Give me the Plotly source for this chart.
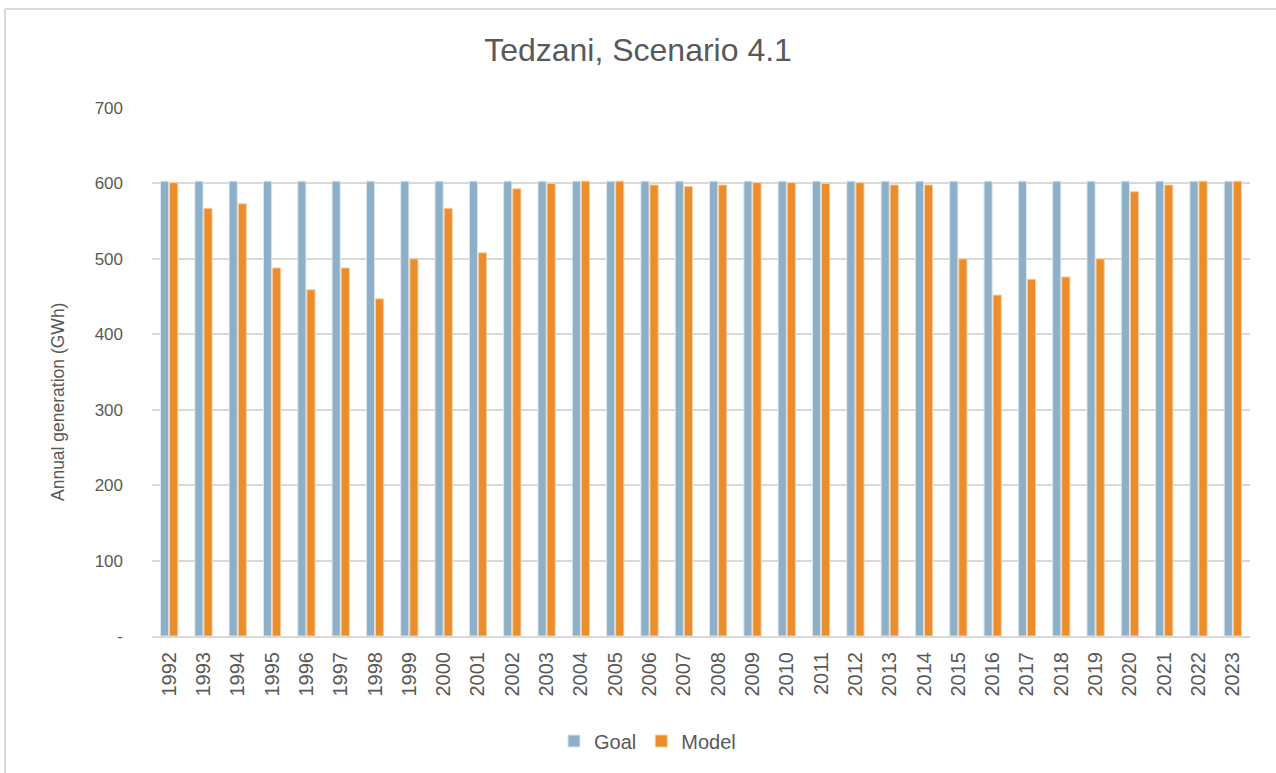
import plotly.graph_objects as go

years = [str(y) for y in range(1992, 2024)]
goal = [603] * 32
model = [601, 567, 573, 488, 459, 488, 447, 500, 567, 508, 593,
         600, 603, 603, 598, 596, 598, 601, 601, 600, 601, 598, 598,
         500, 452, 473, 476, 500, 589, 598, 603, 603]
y_ticks = [0, 100, 200, 300, 400, 500, 600, 700]
y_tick_labels = ["-", "100", "200", "300", "400", "500", "600", "700"]

W, H = 1276, 773
ML, MR, MT, MB = 152, 26, 108, 137
pw, ph = W - ML - MR, H - MT - MB

text_col = "#595959"
font_main = "Liberation Sans, Arial, sans-serif"

fig = go.Figure()
fig.add_bar(x=years, y=goal, name="Goal",
            marker=dict(color="#8DB0C8", line=dict(color="#DCE7EF", width=1)))
fig.add_bar(x=years, y=model, name="Model",
            marker=dict(color="#EA8D2A", line=dict(color="#F7CFA3", width=1)))

# frame lines along the top and left edges of the chart area
fx0 = (5 - ML) / pw
fy1 = 1 + (MT - 9) / ph
fy0 = -(H - MT - ph) / ph - 0.01
fig.add_shape(type="line", xref="paper", yref="paper",
              x0=fx0, x1=1 + MR / pw, y0=fy1, y1=fy1,
              line=dict(color="#D9D9D9", width=2))
fig.add_shape(type="line", xref="paper", yref="paper",
              x0=fx0, x1=fx0, y0=fy1, y1=fy0,
              line=dict(color="#D9D9D9", width=2))

# vertical axis title
fig.add_annotation(text="Annual generation (GWh)", textangle=-90,
                   xref="paper", yref="paper",
                   x=(58 - ML) / pw, y=(636 - 402) / ph,
                   xanchor="center", yanchor="middle", showarrow=False,
                   font=dict(family=font_main, size=17.5, color=text_col))

fig.update_layout(
    width=W, height=H,
    margin=dict(l=ML, r=MR, t=MT, b=MB, autoexpand=False),
    paper_bgcolor="white", plot_bgcolor="white",
    barmode="group", bargap=0.47, bargroupgap=0.1,
    title=dict(text="Tedzani, Scenario 4.1", x=0.5, xanchor="center",
               y=1 - 50 / H, yanchor="middle",
               font=dict(family=font_main, size=32, color=text_col)),
    legend=dict(orientation="h", x=((567 + 728) / 2 - ML) / pw,
                xanchor="center", y=-(741 - 636) / ph, yanchor="middle",
                font=dict(family=font_main, size=20, color=text_col),
                itemwidth=30, traceorder="normal"),
    xaxis=dict(type="category", tickangle=-90, showgrid=False,
               tickmode="linear", dtick=1,
               tickfont=dict(family=font_main, size=20, color=text_col),
               ticklabelstandoff=6,
               showline=True, linecolor="#D9D9D9", linewidth=2, ticks=""),
    yaxis=dict(range=[0, 700], tickvals=y_ticks, ticktext=y_tick_labels,
               showgrid=True, gridcolor="#D9D9D9", gridwidth=1.5,
               zeroline=False, ticks="", ticklabelstandoff=28,
               tickfont=dict(family=font_main, size=17, color=text_col)),
)

fig.write_html("out.html")
